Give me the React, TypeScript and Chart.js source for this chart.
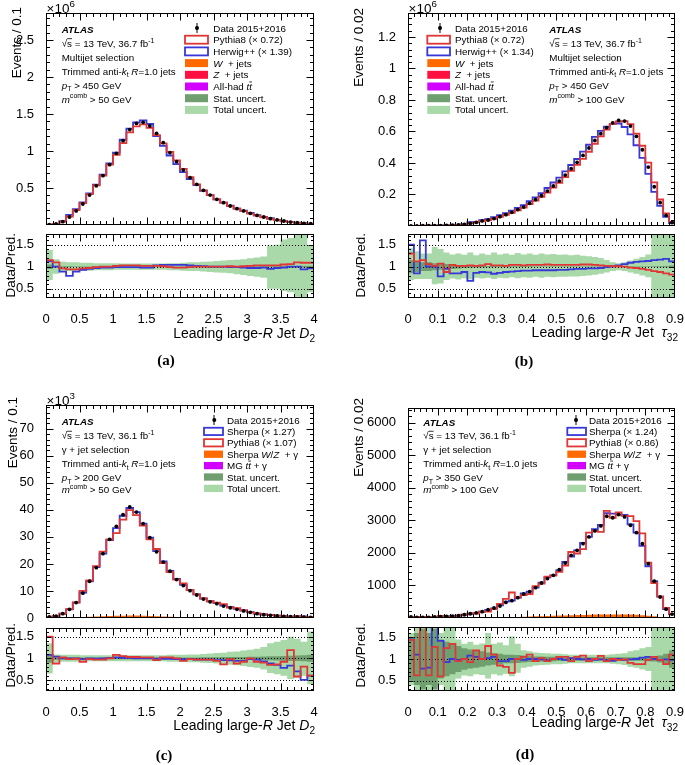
import React, { useEffect, useRef } from 'react';
import { Chart, registerables } from 'chart.js';
Chart.register(...registerables);

// ---------------- categories / tick labels ----------------
const D2_EDGES = Array.from({ length: 41 }, (_, i) => +(i * 0.1).toFixed(2));
const TAU_EDGES = Array.from({ length: 46 }, (_, i) => +(i * 0.02).toFixed(2));
const D2_XLABELS = [0, 0.5, 1, 1.5, 2, 2.5, 3, 3.5, 4];
const TAU_XLABELS = [0, 0.1, 0.2, 0.3, 0.4, 0.5, 0.6, 0.7, 0.8, 0.9];
const A_YLABELS = [0.5, 1, 1.5, 2, 2.5];
const B_YLABELS = [0.2, 0.4, 0.6, 0.8, 1, 1.2];
const C_YLABELS = [0, 10, 20, 30, 40, 50, 60, 70];
const D_YLABELS = [1000, 2000, 3000, 4000, 5000, 6000];
const RATIO_YLABELS = [0.5, 1, 1.5];

// ---------------- (a) multijet D2, x10^6 ----------------
const A_DATA = [0.005, 0.015, 0.045, 0.108, 0.19, 0.284, 0.405, 0.53, 0.667, 0.815, 0.968, 1.14, 1.29, 1.374, 1.387, 1.338, 1.239, 1.113, 0.977, 0.856, 0.743, 0.64, 0.55, 0.468, 0.405, 0.347, 0.302, 0.257, 0.22, 0.19, 0.158, 0.13, 0.108, 0.086, 0.068, 0.054, 0.04, 0.031, 0.023, 0.018];
const A_PYTHIA = [0.0043, 0.0136, 0.047, 0.115, 0.202, 0.296, 0.418, 0.535, 0.667, 0.815, 0.949, 1.107, 1.252, 1.334, 1.36, 1.312, 1.215, 1.102, 0.987, 0.873, 0.758, 0.646, 0.55, 0.468, 0.405, 0.347, 0.302, 0.254, 0.22, 0.188, 0.155, 0.126, 0.105, 0.083, 0.066, 0.051, 0.038, 0.028, 0.021, 0.0165];
const A_HERWIG = [0.0044, 0.015, 0.051, 0.137, 0.213, 0.305, 0.426, 0.546, 0.681, 0.832, 0.978, 1.152, 1.303, 1.388, 1.415, 1.365, 1.203, 1.07, 0.939, 0.823, 0.714, 0.621, 0.539, 0.463, 0.405, 0.347, 0.302, 0.26, 0.222, 0.194, 0.163, 0.134, 0.11, 0.091, 0.07, 0.055, 0.04, 0.031, 0.0245, 0.019];
const A_R_PYTHIA = [1.15, 1.1, 0.96, 0.94, 0.94, 0.96, 0.97, 0.99, 1.0, 1.0, 1.02, 1.03, 1.03, 1.03, 1.02, 1.02, 1.02, 1.01, 0.99, 0.98, 0.98, 0.99, 1.0, 1.0, 1.0, 1.0, 1.0, 1.01, 1.0, 1.01, 1.02, 1.03, 1.03, 1.03, 1.03, 1.05, 1.06, 1.1, 1.09, 1.09];
const A_R_HERWIG = [1.13, 1.0, 0.89, 0.79, 0.89, 0.93, 0.95, 0.97, 0.98, 0.98, 0.99, 0.99, 0.99, 0.99, 0.98, 0.98, 1.03, 1.04, 1.04, 1.04, 1.04, 1.03, 1.02, 1.01, 1.0, 1.0, 1.0, 0.99, 0.99, 0.98, 0.97, 0.97, 0.98, 0.95, 0.97, 0.98, 1.0, 1.0, 0.94, 0.96];
const A_TOT_HI = [1.38, 1.17, 1.11, 1.1, 1.1, 1.09, 1.09, 1.08, 1.08, 1.08, 1.08, 1.07, 1.07, 1.07, 1.07, 1.07, 1.07, 1.07, 1.08, 1.08, 1.09, 1.1, 1.1, 1.11, 1.12, 1.13, 1.14, 1.15, 1.16, 1.17, 1.19, 1.21, 1.23, 1.48, 1.5, 1.62, 1.65, 1.8, 1.8, 1.48];
const A_TOT_LO = [0.7, 0.84, 0.9, 0.9, 0.9, 0.91, 0.91, 0.92, 0.92, 0.92, 0.93, 0.93, 0.93, 0.93, 0.93, 0.93, 0.93, 0.93, 0.92, 0.92, 0.91, 0.9, 0.9, 0.89, 0.88, 0.87, 0.86, 0.85, 0.83, 0.81, 0.79, 0.77, 0.75, 0.5, 0.5, 0.45, 0.42, 0.32, 0.3, 0.42];
const A_STAT = [0.05, 0.02, 0.012, 0.008, 0.006, 0.005, 0.004, 0.004, 0.003, 0.003, 0.003, 0.003, 0.003, 0.003, 0.003, 0.003, 0.003, 0.003, 0.003, 0.003, 0.004, 0.004, 0.004, 0.005, 0.005, 0.005, 0.006, 0.006, 0.007, 0.007, 0.008, 0.009, 0.01, 0.011, 0.012, 0.014, 0.016, 0.018, 0.021, 0.024];

// ---------------- (b) multijet tau32, x10^6 ----------------
const B_DATA = [0.001, 0.001, 0.002, 0.002, 0.003, 0.003, 0.004, 0.005, 0.007, 0.01, 0.017, 0.023, 0.032, 0.038, 0.047, 0.059, 0.072, 0.087, 0.104, 0.12, 0.144, 0.167, 0.192, 0.222, 0.254, 0.285, 0.323, 0.364, 0.404, 0.448, 0.495, 0.543, 0.586, 0.624, 0.655, 0.67, 0.666, 0.634, 0.569, 0.484, 0.374, 0.249, 0.148, 0.068, 0.021];
const B_PYTHIA = [0.0008, 0.0009, 0.0017, 0.0019, 0.0029, 0.0028, 0.0045, 0.0048, 0.0069, 0.0098, 0.0165, 0.0225, 0.031, 0.0358, 0.0456, 0.0573, 0.0706, 0.0837, 0.1, 0.1165, 0.1385, 0.1606, 0.1846, 0.2114, 0.2442, 0.274, 0.3106, 0.35, 0.3885, 0.4267, 0.4714, 0.5221, 0.5689, 0.6118, 0.6485, 0.6634, 0.666, 0.647, 0.5866, 0.5095, 0.4022, 0.2767, 0.1682, 0.08, 0.0256];
const B_HERWIG = [0.0007, 0.0012, 0.0013, 0.002, 0.003, 0.0038, 0.0042, 0.0059, 0.0082, 0.0114, 0.025, 0.0267, 0.0364, 0.0437, 0.056, 0.0686, 0.0818, 0.0978, 0.1156, 0.1319, 0.1582, 0.1815, 0.2087, 0.2413, 0.2761, 0.3065, 0.3473, 0.3872, 0.4253, 0.4716, 0.5156, 0.5656, 0.6041, 0.6303, 0.6485, 0.6505, 0.6283, 0.5817, 0.5126, 0.4321, 0.331, 0.2165, 0.1276, 0.0576, 0.0188];
const B_R_PYTHIA = [1.3, 1.12, 1.15, 1.06, 1.02, 1.07, 0.88, 1.04, 1.02, 1.02, 1.03, 1.02, 1.03, 1.06, 1.03, 1.03, 1.02, 1.04, 1.04, 1.03, 1.04, 1.04, 1.04, 1.05, 1.04, 1.04, 1.04, 1.04, 1.04, 1.05, 1.05, 1.04, 1.03, 1.02, 1.01, 1.01, 1.0, 0.98, 0.97, 0.95, 0.93, 0.9, 0.88, 0.85, 0.82];
const B_R_HERWIG = [1.5, 0.85, 1.6, 1.0, 1.0, 0.78, 0.95, 0.85, 0.85, 0.88, 0.68, 0.86, 0.88, 0.87, 0.84, 0.86, 0.88, 0.89, 0.9, 0.91, 0.91, 0.92, 0.92, 0.92, 0.92, 0.93, 0.93, 0.94, 0.95, 0.95, 0.96, 0.96, 0.97, 0.99, 1.01, 1.03, 1.06, 1.09, 1.11, 1.12, 1.13, 1.15, 1.16, 1.18, 1.12];
const B_TOT_HI = [1.42, 1.35, 1.3, 1.3, 1.45, 1.4, 1.32, 1.28, 1.3, 1.27, 1.32, 1.26, 1.3, 1.27, 1.32, 1.28, 1.3, 1.27, 1.31, 1.28, 1.3, 1.27, 1.3, 1.28, 1.29, 1.27, 1.28, 1.26, 1.27, 1.25, 1.24, 1.22, 1.2, 1.15, 1.1, 1.08, 1.1, 1.14, 1.18, 1.22, 1.28, 1.9, 1.9, 1.9, 1.9];
const B_TOT_LO = [0.7, 0.72, 0.72, 0.72, 0.6, 0.62, 0.7, 0.73, 0.71, 0.74, 0.71, 0.75, 0.73, 0.75, 0.72, 0.75, 0.74, 0.76, 0.74, 0.76, 0.75, 0.77, 0.75, 0.77, 0.76, 0.77, 0.77, 0.78, 0.78, 0.79, 0.8, 0.82, 0.84, 0.87, 0.9, 0.92, 0.9, 0.87, 0.84, 0.8, 0.76, 0.1, 0.1, 0.1, 0.1];
const B_STAT = [0.15, 0.12, 0.1, 0.1, 0.08, 0.07, 0.06, 0.05, 0.04, 0.03, 0.025, 0.02, 0.02, 0.015, 0.015, 0.01, 0.01, 0.01, 0.01, 0.008, 0.008, 0.007, 0.007, 0.006, 0.006, 0.005, 0.005, 0.005, 0.005, 0.005, 0.004, 0.004, 0.004, 0.004, 0.004, 0.004, 0.004, 0.004, 0.005, 0.005, 0.006, 0.008, 0.01, 0.015, 0.03];

// ---------------- (c) gamma+jet D2, x10^3 ----------------
const C_DATA = [0.4, 0.7, 1.6, 3.2, 5.7, 9.2, 13.6, 18.6, 23.8, 29.1, 33.9, 38.2, 41.1, 39.2, 34.9, 29.7, 24.5, 20.7, 17.3, 14.2, 12.0, 10.1, 8.5, 7.0, 6.0, 5.3, 4.4, 3.8, 3.2, 2.6, 2.1, 1.6, 1.2, 1.0, 0.75, 0.6, 0.5, 0.4, 0.3, 0.25];
const C_SHERPA = [0.37, 0.67, 1.6, 3.2, 5.7, 9.39, 13.6, 18.79, 23.8, 28.81, 33.24, 37.82, 40.69, 39.2, 34.9, 29.7, 24.75, 20.91, 17.47, 14.49, 12.24, 10.31, 8.76, 7.22, 6.19, 5.52, 4.58, 4.0, 3.4, 2.77, 2.14, 1.65, 1.29, 1.14, 0.88, 0.77, 0.6, 0.57, 0.6, 0.42];
const C_PYTHIA = [0.27, 0.8, 1.57, 3.27, 5.76, 10.0, 13.88, 19.18, 24.54, 29.1, 31.39, 36.38, 39.9, 38.06, 34.22, 29.12, 25.52, 20.29, 16.96, 14.2, 12.77, 10.31, 8.76, 7.22, 6.19, 5.64, 5.12, 3.88, 3.64, 2.83, 2.1, 1.74, 1.33, 1.18, 0.87, 0.65, 0.42, 0.69, 0.37, 0.42];
const C_WZ = [0.02, 0.05, 0.1, 0.16, 0.24, 0.34, 0.45, 0.56, 0.66, 0.75, 0.82, 0.87, 0.9, 0.88, 0.82, 0.74, 0.65, 0.56, 0.48, 0.41, 0.35, 0.3, 0.25, 0.21, 0.18, 0.15, 0.13, 0.11, 0.09, 0.08, 0.07, 0.06, 0.05, 0.04, 0.03, 0.03, 0.02, 0.02, 0.02, 0.01];
const C_R_SHERPA = [1.08, 1.04, 1.0, 1.0, 1.0, 0.98, 1.0, 0.99, 1.0, 1.01, 1.02, 1.01, 1.01, 1.0, 1.0, 1.0, 0.99, 0.99, 0.99, 0.98, 0.98, 0.98, 0.97, 0.97, 0.97, 0.96, 0.96, 0.95, 0.94, 0.94, 0.98, 0.97, 0.93, 0.88, 0.85, 0.78, 0.83, 0.7, 0.5, 0.6];
const C_R_PYTHIA = [1.5, 0.88, 1.02, 0.98, 0.99, 0.92, 0.98, 0.97, 0.97, 1.0, 1.08, 1.05, 1.03, 1.03, 1.02, 1.02, 0.96, 1.02, 1.02, 1.0, 0.94, 0.98, 0.97, 0.97, 0.97, 0.94, 0.86, 0.98, 0.88, 0.92, 1.0, 0.92, 0.9, 0.85, 0.86, 0.92, 1.19, 0.58, 0.81, 0.6];
const C_TOT_HI = [1.35, 1.09, 1.08, 1.08, 1.08, 1.07, 1.07, 1.07, 1.07, 1.07, 1.07, 1.07, 1.07, 1.07, 1.07, 1.07, 1.07, 1.07, 1.08, 1.08, 1.08, 1.09, 1.09, 1.1, 1.11, 1.12, 1.13, 1.15, 1.16, 1.18, 1.2, 1.22, 1.26, 1.35, 1.38, 1.42, 1.5, 1.45, 1.38, 1.62];
const C_TOT_LO = [0.65, 0.91, 0.92, 0.92, 0.92, 0.93, 0.93, 0.93, 0.93, 0.93, 0.93, 0.93, 0.93, 0.93, 0.93, 0.93, 0.93, 0.93, 0.92, 0.92, 0.92, 0.91, 0.91, 0.9, 0.89, 0.88, 0.87, 0.85, 0.84, 0.82, 0.8, 0.78, 0.74, 0.66, 0.63, 0.6, 0.52, 0.55, 0.6, 0.4];
const C_STAT = [0.1, 0.04, 0.03, 0.025, 0.02, 0.02, 0.02, 0.02, 0.02, 0.02, 0.02, 0.02, 0.02, 0.02, 0.02, 0.02, 0.02, 0.02, 0.02, 0.02, 0.02, 0.02, 0.02, 0.022, 0.024, 0.026, 0.028, 0.03, 0.03, 0.032, 0.035, 0.038, 0.04, 0.045, 0.05, 0.055, 0.06, 0.065, 0.07, 0.08];

// ---------------- (d) gamma+jet tau32, events ----------------
const D_DATA = [30, 20, 20, 20, 30, 40, 50, 60, 70, 100, 130, 160, 195, 256, 307, 369, 480, 533, 625, 738, 810, 932, 1076, 1210, 1312, 1486, 1690, 1927, 2080, 2285, 2490, 2675, 2830, 3126, 3080, 3177, 3105, 2850, 2620, 2285, 1670, 1130, 645, 270, 120];
const D_SHERPA = [21, 18, 26, 25, 17, 28, 54, 60, 71, 100, 120, 152, 195, 251, 292, 388, 505, 533, 625, 753, 810, 932, 1087, 1247, 1312, 1471, 1724, 1889, 2080, 2308, 2490, 2730, 2859, 3223, 3208, 3177, 3168, 2879, 2620, 2218, 1590, 1130, 658, 273, 122];
const D_PYTHIA = [21, 32, 11, 32, 23, 67, 40, 44, 74, 100, 140, 133, 195, 197, 279, 434, 585, 784, 625, 703, 736, 981, 1055, 1274, 1312, 1415, 1610, 2028, 1981, 2116, 2621, 2675, 2645, 3291, 3080, 3242, 3136, 3132, 2977, 2597, 1704, 1076, 658, 307, 109];
const D_WZ = [1, 1, 1, 1, 1, 2, 2, 2, 3, 4, 5, 7, 9, 12, 15, 19, 23, 28, 33, 38, 44, 50, 56, 62, 68, 74, 80, 86, 91, 96, 100, 104, 107, 110, 111, 111, 109, 105, 98, 88, 72, 52, 32, 15, 6];
const D_R_SHERPA = [1.45, 1.1, 0.78, 0.8, 1.8, 1.42, 0.93, 1.0, 0.98, 1.0, 1.08, 1.05, 1.0, 1.02, 1.05, 0.95, 0.95, 1.0, 1.0, 0.98, 1.0, 1.0, 0.99, 0.97, 1.0, 1.01, 0.98, 1.02, 1.0, 0.99, 1.0, 0.98, 0.99, 0.97, 0.96, 1.0, 0.98, 0.99, 1.0, 1.03, 1.05, 1.0, 0.98, 0.99, 0.98];
const D_R_PYTHIA = [1.44, 0.62, 1.8, 0.62, 1.28, 0.6, 1.25, 1.35, 0.95, 1.0, 0.93, 1.2, 1.0, 1.3, 1.1, 0.85, 0.82, 0.68, 1.0, 1.05, 1.1, 0.95, 1.02, 0.95, 1.0, 1.05, 1.05, 0.95, 1.05, 1.08, 0.95, 1.0, 1.07, 0.95, 1.0, 0.98, 0.99, 0.91, 0.88, 0.88, 0.98, 1.05, 0.98, 0.88, 1.1];
const D_TOT_HI = [1.6, 1.9, 1.9, 1.9, 1.9, 1.6, 1.9, 1.9, 1.45, 1.35, 1.4, 1.33, 1.36, 1.6, 1.35, 1.38, 1.32, 1.52, 1.35, 1.2, 1.18, 1.15, 1.14, 1.13, 1.12, 1.12, 1.11, 1.1, 1.1, 1.1, 1.1, 1.1, 1.1, 1.1, 1.11, 1.12, 1.13, 1.18, 1.2, 1.25, 1.28, 1.9, 1.9, 1.9, 1.9];
const D_TOT_LO = [0.4, 0.1, 0.1, 0.1, 0.1, 0.4, 0.1, 0.1, 0.55, 0.62, 0.6, 0.65, 0.63, 0.55, 0.65, 0.62, 0.66, 0.6, 0.68, 0.8, 0.82, 0.85, 0.86, 0.87, 0.88, 0.88, 0.89, 0.9, 0.9, 0.9, 0.9, 0.9, 0.9, 0.9, 0.89, 0.88, 0.86, 0.82, 0.8, 0.76, 0.72, 0.1, 0.1, 0.1, 0.1];
const D_STAT = [0.5, 0.6, 0.7, 0.6, 0.7, 0.45, 0.4, 0.35, 0.3, 0.25, 0.22, 0.2, 0.18, 0.15, 0.13, 0.12, 0.1, 0.1, 0.09, 0.08, 0.07, 0.06, 0.06, 0.05, 0.05, 0.04, 0.04, 0.04, 0.04, 0.04, 0.04, 0.04, 0.04, 0.04, 0.04, 0.04, 0.04, 0.04, 0.04, 0.04, 0.05, 0.06, 0.08, 0.12, 0.2];

// ---------------- styles ----------------
const SANS = '"Liberation Sans", Arial, Helvetica, sans-serif';
const SERIF = '"Liberation Serif", "Times New Roman", serif';
const RED = '#e03636';
const BLUE = '#3838d8';
const ORANGE = '#ff6a00';
const ZRED = '#ff1040';
const MAGENTA = '#d200ff';
const STATC = '#6f9f6f';
const TOTC = '#a9d8a9';

type Seg = { t: string; it?: boolean; b?: boolean; sup?: boolean; sub?: boolean; over?: boolean; serif?: boolean };

function segFont(s: Seg, size: number) {
  const sz = s.sup || s.sub ? size * 0.72 : size;
  return `${s.it ? 'italic ' : ''}${s.b ? 'bold ' : ''}${sz}px ${s.serif ? SERIF : SANS}`;
}

function drawRich(ctx: CanvasRenderingContext2D, segs: Seg[], x: number, y: number, size: number, align: 'left' | 'right' | 'center' = 'left', rot = false) {
  ctx.save();
  ctx.translate(x, y);
  if (rot) ctx.rotate(-Math.PI / 2);
  ctx.textBaseline = 'alphabetic';
  ctx.textAlign = 'left';
  ctx.fillStyle = '#000';
  ctx.strokeStyle = '#000';
  const widths: number[] = [];
  let total = 0;
  for (const s of segs) {
    ctx.font = segFont(s, size);
    const w = ctx.measureText(s.t).width;
    widths.push(w);
    total += w;
  }
  let cx = align === 'left' ? 0 : align === 'right' ? -total : -total / 2;
  segs.forEach((s, i) => {
    ctx.font = segFont(s, size);
    const dy = s.sup ? -size * 0.42 : s.sub ? size * 0.3 : 0;
    ctx.fillText(s.t, cx, dy);
    if (s.over) {
      ctx.beginPath();
      ctx.lineWidth = 0.8;
      const oy = dy - size * 0.82;
      ctx.moveTo(cx, oy);
      ctx.lineTo(cx + widths[i], oy);
      ctx.stroke();
    }
    cx += widths[i];
  });
  ctx.restore();
}

function range(a: number, b: number, step: number) {
  const out: number[] = [];
  const n = Math.round((b - a) / step);
  for (let i = 0; i <= n; i++) out.push(+(a + i * step).toFixed(6));
  return out;
}

const hist = (edges: number[], vals: number[]) =>
  vals.map((v, i) => ({ x: edges[i], y: v })).concat([{ x: edges[vals.length], y: vals[vals.length - 1] }]);
const centers = (edges: number[], vals: number[]) => vals.map((v, i) => ({ x: (edges[i] + edges[i + 1]) / 2, y: v }));

const P = (v: number) => Math.round(v) + 0.5;

function frameAndTicks(chart: any, xMaj: number[], xMin: number[], yMaj: number[], yMin: number[], xl: number[], yl: number[]) {
  const ctx: CanvasRenderingContext2D = chart.ctx;
  const a = chart.chartArea;
  const xs = chart.scales.x;
  const ys = chart.scales.y;
  const L = P(a.left), R = P(a.right - 1), T = P(a.top), B = P(a.bottom - 1);
  ctx.save();
  ctx.strokeStyle = '#000';
  ctx.lineWidth = 1;
  ctx.setLineDash([]);
  ctx.strokeRect(L, T, R - L, B - T);
  ctx.beginPath();
  const xt = (vals: number[], len: number) => vals.forEach((v) => {
    const x = P(xs.getPixelForValue(v));
    if (x <= L + 0.1 || x >= R - 0.1) return;
    ctx.moveTo(x, B); ctx.lineTo(x, B - len);
    ctx.moveTo(x, T); ctx.lineTo(x, T + len);
  });
  const yt = (vals: number[], len: number) => vals.forEach((v) => {
    const y = P(ys.getPixelForValue(v));
    if (y <= T + 0.1 || y >= B - 0.1) return;
    ctx.moveTo(L, y); ctx.lineTo(L + len, y);
    ctx.moveTo(R, y); ctx.lineTo(R - len, y);
  });
  xt(xMin, xl[1]); xt(xMaj, xl[0]);
  yt(yMin, yl[1]); yt(yMaj, yl[0]);
  ctx.stroke();
  ctx.restore();
}

type LegendEntry = { kind: 'data' | 'outline' | 'fill'; color?: string; segs: Seg[] };
type MC = { vals: number[]; ratio: number[]; color: string };

interface Spec {
  ox: number; cw: number; mainY: number; mainH: number; ratY: number; ratH: number;
  frameL: number; frameR: number; mainTop: number; mainBot: number; ratTop: number; ratBot: number;
  edges: number[]; xMax: number; xLabels: number[]; xMajor: number; xMinor: number;
  yMax: number; yLabels: number[]; yMajor: number; yMinor: number; rMin: number; rMax: number;
  data: number[]; mcTop: MC; mcBot: MC; bg?: number[];
  totHi: number[]; totLo: number[]; stat: number[];
  exponent?: { segs: Seg[]; x: number; y: number };
  yTitle: string; yTitleX: number; yTitleY: number; rTitleX: number; rTitleY: number;
  xTitle: Seg[]; xTitleX: number; xTitleY: number;
  label: string; labelX: number; labelY: number;
  infoX: number; infoY: number[]; info: Seg[][];
  legDot: number; legBoxL: number; legBoxR: number; legText: number; legBoxH: number;
  legY0: number; legStep: number; legend: LegendEntry[];
}

function fmt(v: number) { return String(Math.round(v * 1000) / 1000); }

// step-before interpolation: horizontal at the bin value across the bin, then vertical at the edge
const STEP = 'before';

function mainConfig(s: Spec): any {
  const datasets: any[] = [
    { data: centers(s.edges, s.data), showLine: false, pointRadius: 1.9, pointHoverRadius: 1.9, pointBackgroundColor: '#000', pointBorderWidth: 0 },
    { data: hist(s.edges, s.mcTop.vals), stepped: STEP, borderColor: s.mcTop.color, borderWidth: 1.8, pointRadius: 0, fill: false },
    { data: hist(s.edges, s.mcBot.vals), stepped: STEP, borderColor: s.mcBot.color, borderWidth: 1.8, pointRadius: 0, fill: false },
  ];
  if (s.bg) datasets.push({ data: hist(s.edges, s.bg), stepped: STEP, borderColor: 'rgba(0,0,0,0)', borderWidth: 0, backgroundColor: ORANGE, fill: 'origin', pointRadius: 0 });
  const oy = s.mainY, ox = s.ox;
  const plugin = {
    id: 'mainDeco',
    afterDraw(chart: any) {
      const ctx: CanvasRenderingContext2D = chart.ctx;
      const yMaxTick = Math.floor(s.yMax / s.yMinor) * s.yMinor;
      frameAndTicks(chart, range(0, s.xMax, s.xMajor), range(0, s.xMax, s.xMinor), range(0, yMaxTick, s.yMajor), range(0, yMaxTick, s.yMinor), [7, 3.5], [7, 3.5]);
      if (s.exponent) drawRich(ctx, s.exponent.segs, s.exponent.x - ox, s.exponent.y - oy, 13.5, 'left');
      drawRich(ctx, [{ t: s.yTitle }], s.yTitleX - ox, s.yTitleY - oy, 13.5, 'right', true);
      s.info.forEach((segs, i) => drawRich(ctx, segs, s.infoX - ox, s.infoY[i] - oy, 9.8, 'left'));
      s.legend.forEach((e, i) => {
        const cy = s.legY0 + i * s.legStep - oy;
        ctx.save();
        if (e.kind === 'data') {
          const x = s.legDot - ox;
          ctx.strokeStyle = '#000'; ctx.lineWidth = 1;
          ctx.beginPath(); ctx.moveTo(P(x) - 0.5, cy - 5); ctx.lineTo(P(x) - 0.5, cy + 5); ctx.stroke();
          ctx.fillStyle = '#000'; ctx.beginPath(); ctx.arc(x, cy, 2, 0, Math.PI * 2); ctx.fill();
        } else {
          const x0 = s.legBoxL - ox, w = s.legBoxR - s.legBoxL, h = s.legBoxH;
          if (e.kind === 'outline') {
            ctx.fillStyle = '#fff'; ctx.fillRect(x0, cy - h / 2, w, h);
            ctx.strokeStyle = e.color!; ctx.lineWidth = 1.8; ctx.strokeRect(x0, cy - h / 2, w, h);
          } else {
            ctx.fillStyle = e.color!; ctx.fillRect(x0, cy - h / 2, w, h);
          }
        }
        ctx.restore();
        drawRich(ctx, e.segs, s.legText - ox, cy + 3.5, 9.8, 'left');
      });
    },
  };
  return {
    type: 'line',
    data: { datasets },
    plugins: [plugin],
    options: {
      responsive: false, animation: false, devicePixelRatio: 1,
      layout: { padding: { left: 0, right: s.ox + s.cw - s.frameR, top: s.mainTop - s.mainY, bottom: 0 } },
      plugins: { legend: { display: false }, tooltip: { enabled: false } },
      events: [],
      scales: {
        x: {
          type: 'linear', min: 0, max: s.xMax,
          ticks: { display: false }, grid: { display: false }, border: { display: false },
          afterFit: (sc: any) => { sc.height = s.mainY + s.mainH - s.mainBot; sc.paddingLeft = 0; sc.paddingRight = 0; },
        },
        y: {
          type: 'linear', min: 0, max: s.yMax,
          grid: { display: false }, border: { display: false },
          ticks: { color: '#000', font: { family: SANS, size: 13 }, padding: 4, callback: (v: number) => fmt(v) },
          afterBuildTicks: (sc: any) => { sc.ticks = s.yLabels.map((v) => ({ value: v })); },
          afterFit: (sc: any) => { sc.width = s.frameL - s.ox; sc.paddingTop = 0; sc.paddingBottom = 0; },
        },
      },
    },
  };
}

function ratioConfig(s: Spec): any {
  const band = (vals: number[], color: string, fill: any) => ({ data: hist(s.edges, vals), stepped: STEP, borderColor: 'rgba(0,0,0,0)', borderWidth: 0, backgroundColor: color, fill, pointRadius: 0 });
  const datasets: any[] = [
    { data: hist(s.edges, s.mcTop.ratio), stepped: STEP, borderColor: s.mcTop.color, borderWidth: 1.8, pointRadius: 0, fill: false },
    { data: hist(s.edges, s.mcBot.ratio), stepped: STEP, borderColor: s.mcBot.color, borderWidth: 1.8, pointRadius: 0, fill: false },
    band(s.stat.map((v) => 1 + v), STATC, '+1'),
    band(s.stat.map((v) => 1 - v), STATC, false),
    band(s.totHi, TOTC, '+1'),
    band(s.totLo, TOTC, false),
  ];
  const oy = s.ratY, ox = s.ox;
  const plugin = {
    id: 'ratioDeco',
    beforeDatasetDraw(chart: any, args: any) {
      if (args.index !== 1) return;
      const ctx: CanvasRenderingContext2D = chart.ctx;
      const a = chart.chartArea;
      ctx.save();
      ctx.strokeStyle = '#000'; ctx.lineWidth = 1; ctx.setLineDash([1, 2]);
      ctx.beginPath();
      RATIO_YLABELS.forEach((v) => { const y = P(chart.scales.y.getPixelForValue(v)); ctx.moveTo(a.left, y); ctx.lineTo(a.right, y); });
      ctx.stroke();
      ctx.restore();
    },
    afterDraw(chart: any) {
      const ctx: CanvasRenderingContext2D = chart.ctx;
      const ymin = range(0.3, 1.7, 0.1).filter((v) => v > s.rMin && v < s.rMax);
      frameAndTicks(chart, range(0, s.xMax, s.xMajor), range(0, s.xMax, s.xMinor), RATIO_YLABELS, ymin, [7, 3.5], [5, 2.5]);
      drawRich(ctx, [{ t: 'Data/Pred.' }], s.rTitleX - ox, s.rTitleY - oy, 13.5, 'right', true);
      drawRich(ctx, s.xTitle, s.xTitleX - ox, s.xTitleY - oy, 14, 'right');
      drawRich(ctx, [{ t: s.label, b: true, serif: true }], s.labelX - ox, s.labelY - oy, 15, 'center');
    },
  };
  return {
    type: 'line',
    data: { datasets },
    plugins: [plugin],
    options: {
      responsive: false, animation: false, devicePixelRatio: 1,
      layout: { padding: { left: 0, right: s.ox + s.cw - s.frameR, top: s.ratTop - s.ratY, bottom: 0 } },
      plugins: { legend: { display: false }, tooltip: { enabled: false } },
      events: [],
      scales: {
        x: {
          type: 'linear', min: 0, max: s.xMax,
          grid: { display: false }, border: { display: false },
          ticks: { color: '#000', font: { family: SANS, size: 13 }, padding: 6, autoSkip: false, maxRotation: 0, callback: (v: number) => fmt(v) },
          afterBuildTicks: (sc: any) => { sc.ticks = s.xLabels.map((v) => ({ value: v })); },
          afterFit: (sc: any) => { sc.height = s.ratY + s.ratH - s.ratBot; sc.paddingLeft = 0; sc.paddingRight = 0; },
        },
        y: {
          type: 'linear', min: s.rMin, max: s.rMax,
          grid: { display: false }, border: { display: false },
          ticks: { color: '#000', font: { family: SANS, size: 13 }, padding: 4, callback: (v: number) => fmt(v) },
          afterBuildTicks: (sc: any) => { sc.ticks = RATIO_YLABELS.map((v) => ({ value: v })); },
          afterFit: (sc: any) => { sc.width = s.frameL - s.ox; sc.paddingTop = 0; sc.paddingBottom = 0; },
        },
      },
    },
  };
}

// ---------------- text helpers ----------------
const sqrtLine = (lumi: string): Seg[] => [{ t: '√' }, { t: 's', over: true }, { t: ` = 13 TeV, ${lumi} fb` }, { t: '-1', sup: true }];
const trimmed: Seg[] = [{ t: 'Trimmed anti-' }, { t: 'k', it: true }, { t: 't', sub: true }, { t: ' ' }, { t: 'R', it: true }, { t: '=1.0 jets' }];
const ptLine = (v: string): Seg[] => [{ t: 'p', it: true }, { t: 'T', sub: true }, { t: ` > ${v} GeV` }];
const mLine = (v: string): Seg[] => [{ t: 'm', it: true }, { t: 'comb', sup: true }, { t: ` > ${v} GeV` }];
const atlas: Seg[] = [{ t: 'ATLAS', it: true, b: true }];
const xD2: Seg[] = [{ t: 'Leading large-' }, { t: 'R', it: true }, { t: ' Jet ' }, { t: 'D', it: true }, { t: '2', sub: true }];
const xTau: Seg[] = [{ t: 'Leading large-' }, { t: 'R', it: true }, { t: ' Jet  ' }, { t: 'τ', it: true }, { t: '32', sub: true }];
const expo = (p: string): Seg[] => [{ t: '×10' }, { t: p, sup: true }];

const dataEntry: LegendEntry = { kind: 'data', segs: [{ t: 'Data 2015+2016' }] };
const statEntry: LegendEntry = { kind: 'fill', color: STATC, segs: [{ t: 'Stat. uncert.' }] };
const totEntry: LegendEntry = { kind: 'fill', color: TOTC, segs: [{ t: 'Total uncert.' }] };
const multijetLegend = (py: string, hw: string): LegendEntry[] => [
  dataEntry,
  { kind: 'outline', color: RED, segs: [{ t: `Pythia8 (× ${py})` }] },
  { kind: 'outline', color: BLUE, segs: [{ t: `Herwig++ (× ${hw})` }] },
  { kind: 'fill', color: ORANGE, segs: [{ t: 'W', it: true }, { t: '  + jets' }] },
  { kind: 'fill', color: ZRED, segs: [{ t: 'Z', it: true }, { t: '  + jets' }] },
  { kind: 'fill', color: MAGENTA, segs: [{ t: 'All-had ' }, { t: 't', it: true }, { t: 't', it: true, over: true }] },
  statEntry, totEntry,
];
const gammaLegend = (sh: string, py: string): LegendEntry[] => [
  dataEntry,
  { kind: 'outline', color: BLUE, segs: [{ t: `Sherpa (× ${sh})` }] },
  { kind: 'outline', color: RED, segs: [{ t: `Pythia8 (× ${py})` }] },
  { kind: 'fill', color: ORANGE, segs: [{ t: 'Sherpa ' }, { t: 'W', it: true }, { t: '/' }, { t: 'Z', it: true }, { t: '  + γ' }] },
  { kind: 'fill', color: MAGENTA, segs: [{ t: 'MG ' }, { t: 't', it: true }, { t: 't', it: true, over: true }, { t: ' + γ' }] },
  statEntry, totEntry,
];

const TOP_INFO_Y = [33.3, 46.7, 60.5, 74.5, 88.5, 102.5];
const BOT_INFO_Y = [425.3, 439.3, 453.3, 466.7, 480.7, 493.3];

const SPECS: Spec[] = [
  {
    ox: 0, cw: 340, mainY: 0, mainH: 230, ratY: 229, ratH: 156,
    frameL: 46, frameR: 314, mainTop: 13, mainBot: 225, ratTop: 234, ratBot: 298,
    edges: D2_EDGES, xMax: 4, xLabels: D2_XLABELS, xMajor: 0.5, xMinor: 0.1,
    yMax: 2.865, yLabels: A_YLABELS, yMajor: 0.5, yMinor: 0.1, rMin: 0.289, rMax: 1.743,
    data: A_DATA, mcTop: { vals: A_PYTHIA, ratio: A_R_PYTHIA, color: RED }, mcBot: { vals: A_HERWIG, ratio: A_R_HERWIG, color: BLUE },
    totHi: A_TOT_HI, totLo: A_TOT_LO, stat: A_STAT,
    exponent: { segs: expo('6'), x: 46.5, y: 12.5 },
    yTitle: 'Events / 0.1', yTitleX: 21, yTitleY: 7, rTitleX: 15, rTitleY: 233,
    xTitle: xD2, xTitleX: 315, xTitleY: 337.5, label: '(a)', labelX: 166, labelY: 365,
    infoX: 61.7, infoY: TOP_INFO_Y, info: [atlas, sqrtLine('36.7'), [{ t: 'Multijet selection' }], trimmed, ptLine('450'), mLine('50')],
    legDot: 197, legBoxL: 185, legBoxR: 208, legText: 213.3, legBoxH: 8, legY0: 28, legStep: 11.7, legend: multijetLegend('0.72', '1.39'),
  },
  {
    ox: 340, cw: 345, mainY: 0, mainH: 230, ratY: 229, ratH: 156,
    frameL: 408, frameR: 675, mainTop: 13, mainBot: 226, ratTop: 234, ratBot: 298,
    edges: TAU_EDGES, xMax: 0.9, xLabels: TAU_XLABELS, xMajor: 0.1, xMinor: 0.02,
    yMax: 1.352, yLabels: B_YLABELS, yMajor: 0.2, yMinor: 0.04, rMin: 0.289, rMax: 1.743,
    data: B_DATA, mcTop: { vals: B_PYTHIA, ratio: B_R_PYTHIA, color: RED }, mcBot: { vals: B_HERWIG, ratio: B_R_HERWIG, color: BLUE },
    totHi: B_TOT_HI, totLo: B_TOT_LO, stat: B_STAT,
    exponent: { segs: expo('6'), x: 408.5, y: 12.5 },
    yTitle: 'Events / 0.02', yTitleX: 362.7, yTitleY: 8, rTitleX: 365, rTitleY: 233,
    xTitle: xTau, xTitleX: 678, xTitleY: 337, label: '(b)', labelX: 524, labelY: 366,
    infoX: 549.3, infoY: TOP_INFO_Y, info: [atlas, sqrtLine('36.7'), [{ t: 'Multijet selection' }], trimmed, ptLine('450'), mLine('100')],
    legDot: 440, legBoxL: 427.3, legBoxR: 450, legText: 455, legBoxH: 8, legY0: 28, legStep: 11.7, legend: multijetLegend('0.72', '1.34'),
  },
  {
    ox: 0, cw: 340, mainY: 390, mainH: 232, ratY: 621, ratH: 144,
    frameL: 46, frameR: 314, mainTop: 405, mainBot: 618, ratTop: 628, ratBot: 691,
    edges: D2_EDGES, xMax: 4, xLabels: D2_XLABELS, xMajor: 0.5, xMinor: 0.1,
    yMax: 78.8, yLabels: C_YLABELS, yMajor: 10, yMinor: 2, rMin: 0.245, rMax: 1.70,
    data: C_DATA, mcTop: { vals: C_PYTHIA, ratio: C_R_PYTHIA, color: RED }, mcBot: { vals: C_SHERPA, ratio: C_R_SHERPA, color: BLUE }, bg: C_WZ,
    totHi: C_TOT_HI, totLo: C_TOT_LO, stat: C_STAT,
    exponent: { segs: expo('3'), x: 46.5, y: 404.5 },
    yTitle: 'Events / 0.1', yTitleX: 16.7, yTitleY: 397, rTitleX: 15, rTitleY: 623,
    xTitle: xD2, xTitleX: 315, xTitleY: 730, label: '(c)', labelX: 164, labelY: 760,
    infoX: 61.7, infoY: BOT_INFO_Y, info: [atlas, sqrtLine('36.1'), [{ t: 'γ + jet selection' }], trimmed, ptLine('200'), mLine('50')],
    legDot: 214.3, legBoxL: 204, legBoxR: 223, legText: 227, legBoxH: 7.3, legY0: 420, legStep: 11.4, legend: gammaLegend('1.27', '1.07'),
  },
  {
    ox: 340, cw: 345, mainY: 390, mainH: 232, ratY: 621, ratH: 144,
    frameL: 408, frameR: 675, mainTop: 408, mainBot: 618, ratTop: 627, ratBot: 691,
    edges: TAU_EDGES, xMax: 0.9, xLabels: TAU_XLABELS, xMajor: 0.1, xMinor: 0.02,
    yMax: 6452, yLabels: D_YLABELS, yMajor: 1000, yMinor: 200, rMin: 0.261, rMax: 1.739,
    data: D_DATA, mcTop: { vals: D_PYTHIA, ratio: D_R_PYTHIA, color: RED }, mcBot: { vals: D_SHERPA, ratio: D_R_SHERPA, color: BLUE }, bg: D_WZ,
    totHi: D_TOT_HI, totLo: D_TOT_LO, stat: D_STAT,
    yTitle: 'Events / 0.02', yTitleX: 363.3, yTitleY: 398, rTitleX: 365, rTitleY: 623,
    xTitle: xTau, xTitleX: 678, xTitleY: 727, label: '(d)', labelX: 525, labelY: 759,
    infoX: 423.3, infoY: [425.7, 439.3, 453.3, 466.7, 480.7, 493.3], info: [atlas, sqrtLine('36.1'), [{ t: 'γ + jet selection' }], trimmed, ptLine('350'), mLine('100')],
    legDot: 576, legBoxL: 567.3, legBoxR: 586, legText: 589, legBoxH: 7.3, legY0: 420, legStep: 11.4, legend: gammaLegend('1.24', '0.86'),
  },
];

function Panel({ spec }: { spec: Spec }) {
  const mainRef = useRef<HTMLCanvasElement>(null);
  const ratRef = useRef<HTMLCanvasElement>(null);
  useEffect(() => {
    const c1 = new Chart(mainRef.current!, mainConfig(spec));
    const c2 = new Chart(ratRef.current!, ratioConfig(spec));
    return () => { c1.destroy(); c2.destroy(); };
  }, [spec]);
  return (
    <>
      <canvas ref={mainRef} width={spec.cw} height={spec.mainH}
        style={{ position: 'absolute', left: spec.ox, top: spec.mainY, width: spec.cw, height: spec.mainH }} />
      <canvas ref={ratRef} width={spec.cw} height={spec.ratH}
        style={{ position: 'absolute', left: spec.ox, top: spec.ratY, width: spec.cw, height: spec.ratH }} />
    </>
  );
}

export default function App() {
  return (
    <div style={{ position: 'absolute', left: 0, top: 0, width: 685, height: 765, background: '#fff', overflow: 'hidden' }}>
      {SPECS.map((s, i) => <Panel key={i} spec={s} />)}
    </div>
  );
}
